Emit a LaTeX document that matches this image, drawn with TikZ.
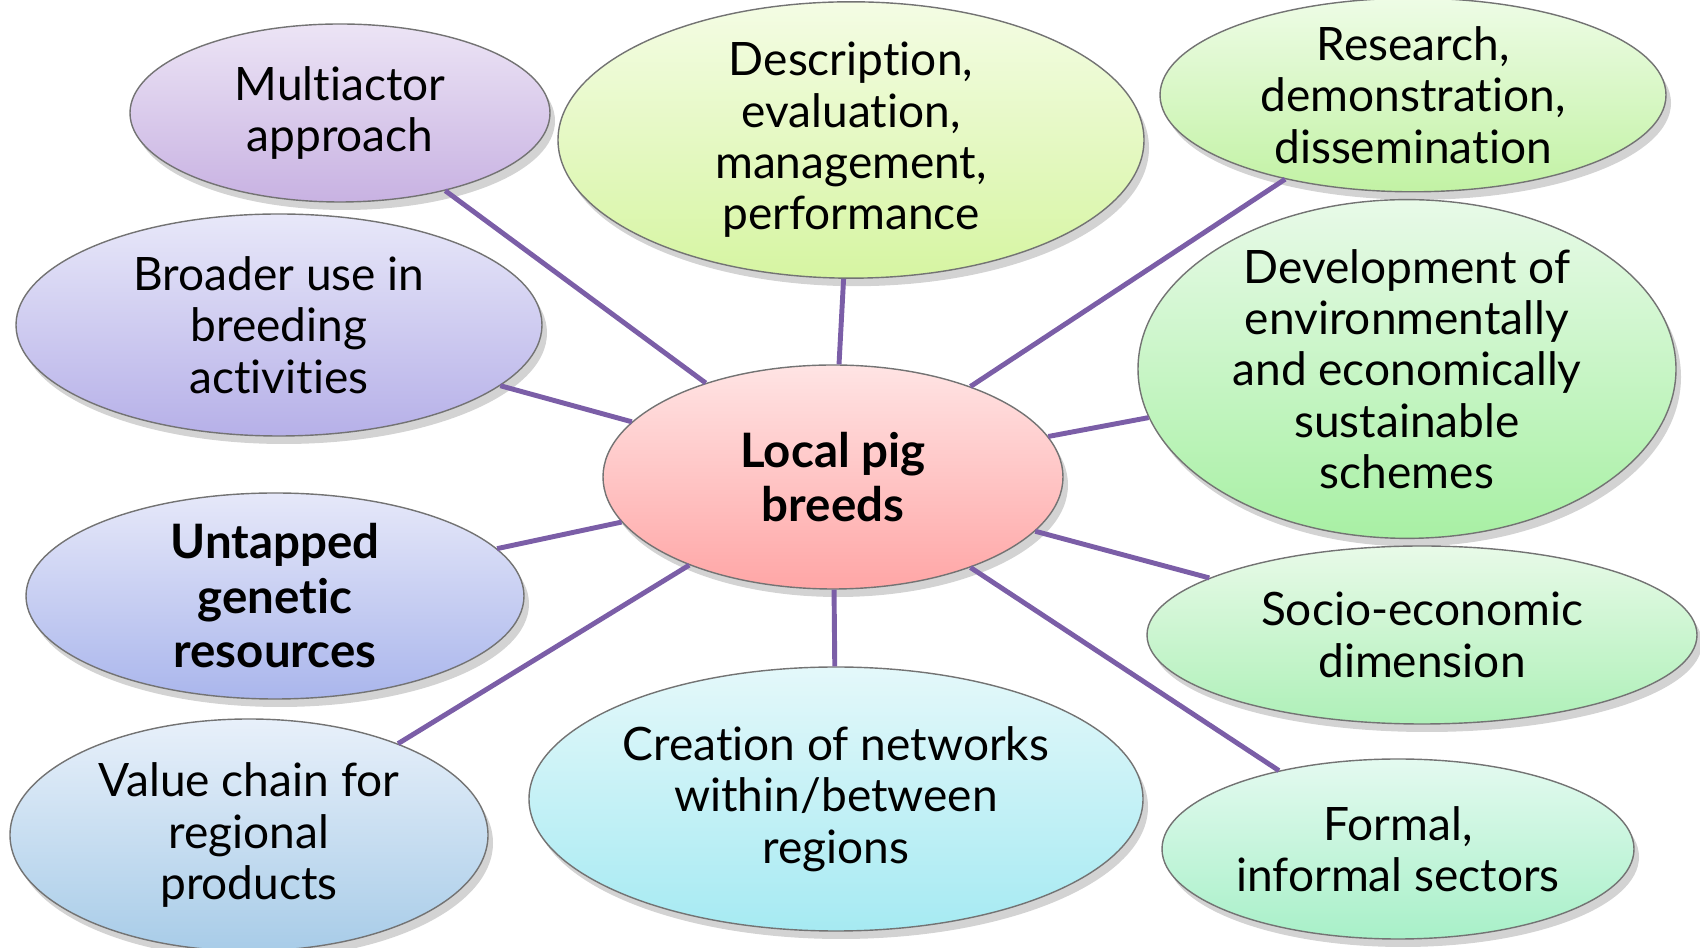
\documentclass[tikz,border=0pt]{standalone}
\usepackage{fontspec}
\setmainfont{Lato}[Ligatures=NoCommon]
\usetikzlibrary{shapes.geometric,
                shadows}

\definecolor{linkpurple}{HTML}{7B5EA7}

\begin{document}
\begin{tikzpicture}[
        bubble/.style={ellipse, draw=black!55, line width=0.4pt, inner sep=0pt, align=center,
            font=\fontsize{13.1}{14.6}\selectfont,
            drop shadow={shadow xshift=0.5mm, shadow yshift=-0.8mm, opacity=0.35}},
        link/.style={draw=linkpurple, line width=1.4pt}
    ]
    \useasboundingbox (0,0) rectangle (17,-9.48);

    \node [bubble, minimum width=4.60cm, minimum height=2.24cm, top color={rgb,255:red,255;green,228;blue,228}, bottom color={rgb,255:red,255;green,166;blue,166}, font=\fontsize{13.5}{15.5}\selectfont\bfseries] (hub) at (8.33,-4.77) {Local pig\\breeds};

    \node [bubble, minimum width=4.20cm, minimum height=1.78cm, top color={rgb,255:red,236;green,228;blue,245}, bottom color={rgb,255:red,200;green,178;blue,226}] (multi) at (3.40,-1.13) {Multiactor\\approach};
    \node [bubble, minimum width=5.86cm, minimum height=2.62cm, top color={rgb,255:red,244;green,252;blue,228}, bottom color={rgb,255:red,214;green,245;blue,162}] (descr) at (8.51,-1.40) {Description,\\evaluation,\\management,\\performance};
    \node [bubble, minimum width=5.06cm, minimum height=1.80cm, top color={rgb,255:red,238;green,252;blue,230}, bottom color={rgb,255:red,194;green,242;blue,164}] (research) at (14.13,-0.95) {Research,\\demonstration,\\dissemination};
    \node [bubble, minimum width=5.26cm, minimum height=2.22cm, top color={rgb,255:red,232;green,232;blue,249}, bottom color={rgb,255:red,182;green,176;blue,232}] (broader) at (2.79,-3.25) {Broader use in\\breeding\\activities};
    \node [bubble, minimum width=5.38cm, minimum height=3.20cm, top color={rgb,255:red,232;green,250;blue,232}, bottom color={rgb,255:red,168;green,240;blue,164}] (devel) at (14.07,-3.69) {Development of\\environmentally\\and economically\\sustainable\\schemes};
    \node [bubble, minimum width=4.98cm, minimum height=2.06cm, top color={rgb,255:red,230;green,232;blue,249}, bottom color={rgb,255:red,170;green,182;blue,236}, font=\fontsize{13.5}{15.5}\selectfont\bfseries] (untapped) at (2.75,-5.96) {Untapped\\genetic\\resources};
    \node [bubble, minimum width=5.50cm, minimum height=1.78cm, top color={rgb,255:red,232;green,250;blue,232}, bottom color={rgb,255:red,174;green,240;blue,184}] (socio) at (14.22,-6.35) {Socio-economic\\dimension};
    \node [bubble, minimum width=4.78cm, minimum height=2.32cm, top color={rgb,255:red,232;green,240;blue,250}, bottom color={rgb,255:red,168;green,204;blue,232}] (value) at (2.49,-8.35) {Value chain for\\regional\\products};
    \node [bubble, minimum width=6.14cm, minimum height=2.64cm, top color={rgb,255:red,228;green,248;blue,250}, bottom color={rgb,255:red,166;green,234;blue,242}] (networks) at (8.36,-7.99) {Creation of networks\\within/between\\regions};
    \node [bubble, minimum width=4.72cm, minimum height=1.80cm, top color={rgb,255:red,228;green,250;blue,240}, bottom color={rgb,255:red,168;green,240;blue,200}] (sectors) at (13.98,-8.49) {Formal,\\informal sectors};

    \foreach \n in {multi, descr, research, broader, devel, untapped, socio, value, networks, sectors}
        \draw [link] (hub) -- (\n);
\end{tikzpicture}
\end{document}
